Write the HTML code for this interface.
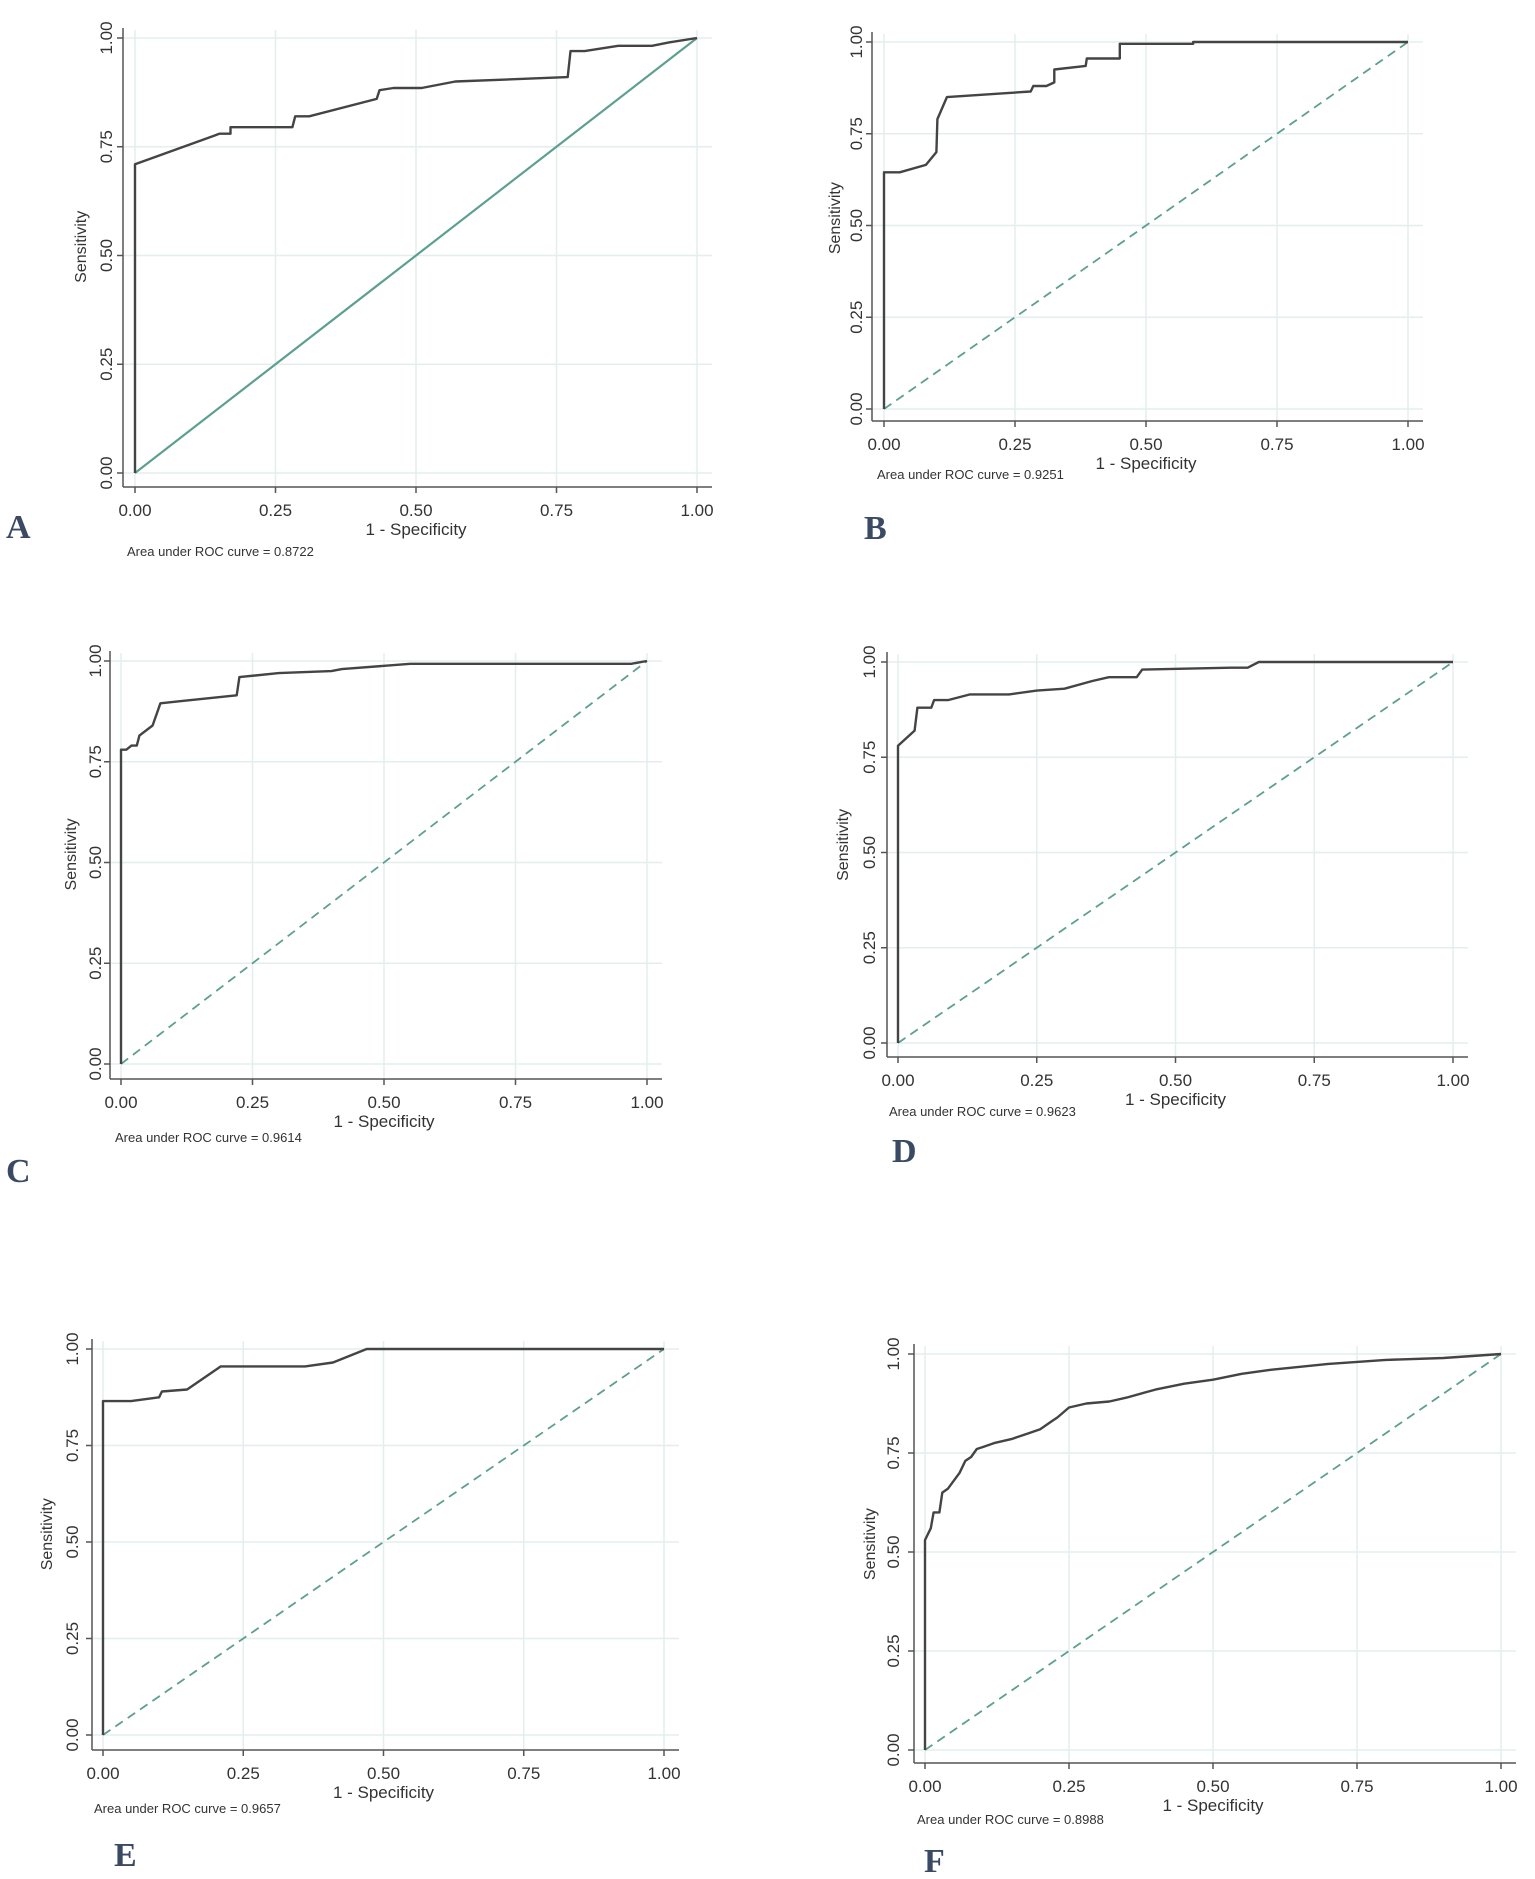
<!DOCTYPE html>
<html><head><meta charset="utf-8"><style>
html,body{margin:0;padding:0;background:#fff;}
svg{display:block;}
text{font-family:"Liberation Sans",sans-serif;fill:#333;}
</style></head><body>
<svg id="fig" width="1535" height="1879" viewBox="0 0 1535 1879"></svg>
<script>
const tickValues = [0, 0.25, 0.5, 0.75, 1];
const tickLabels = ["0.00","0.25","0.50","0.75","1.00"];
const panelLetters = ["A","B","C","D","E","F"];
const aucLabels = ["0.8722","0.9251","0.9614","0.9623","0.9657","0.8988"];
const rocA_x = [0,0,0.14,0.15,0.17,0.17,0.28,0.285,0.31,0.43,0.435,0.46,0.51,0.57,0.77,0.775,0.8,0.86,0.92,0.95,1];
const rocA_y = [0,0.71,0.775,0.78,0.78,0.795,0.795,0.82,0.82,0.86,0.88,0.885,0.885,0.9,0.91,0.97,0.97,0.982,0.982,0.99,1];
const rocB_x = [0,0,0.03,0.08,0.1,0.102,0.12,0.28,0.285,0.31,0.325,0.325,0.385,0.387,0.45,0.45,0.59,0.59,1];
const rocB_y = [0,0.645,0.645,0.665,0.7,0.79,0.85,0.865,0.88,0.88,0.89,0.925,0.935,0.955,0.955,0.995,0.995,1,1];
const rocC_x = [0,0,0.01,0.02,0.03,0.035,0.06,0.075,0.11,0.22,0.225,0.3,0.4,0.42,0.55,0.97,1];
const rocC_y = [0,0.78,0.78,0.79,0.79,0.815,0.84,0.895,0.9,0.915,0.96,0.97,0.975,0.98,0.993,0.993,1];
const rocD_x = [0,0,0.03,0.035,0.06,0.065,0.09,0.13,0.2,0.25,0.3,0.35,0.38,0.43,0.44,0.6,0.63,0.65,1];
const rocD_y = [0,0.78,0.82,0.88,0.88,0.9,0.9,0.915,0.915,0.925,0.93,0.95,0.96,0.96,0.98,0.985,0.985,1,1];
const rocE_x = [0,0,0.05,0.1,0.105,0.15,0.21,0.36,0.41,0.47,1];
const rocE_y = [0,0.865,0.865,0.875,0.89,0.895,0.955,0.955,0.965,1,1];
const rocF_x = [0,0,0.01,0.015,0.025,0.03,0.04,0.05,0.06,0.07,0.08,0.09,0.1,0.12,0.15,0.18,0.2,0.22,0.23,0.25,0.28,0.32,0.35,0.4,0.45,0.5,0.55,0.6,0.7,0.8,0.9,1];
const rocF_y = [0,0.53,0.56,0.6,0.6,0.65,0.66,0.68,0.7,0.73,0.74,0.76,0.765,0.775,0.785,0.8,0.81,0.83,0.84,0.865,0.875,0.88,0.89,0.91,0.925,0.935,0.95,0.96,0.975,0.985,0.99,1];
const seriesX = [rocA_x,rocB_x,rocC_x,rocD_x,rocE_x,rocF_x];
const seriesY = [rocA_y,rocB_y,rocC_y,rocD_y,rocE_y,rocF_y];

const L = [
 {x0:135,x1:697,yt:38,yb:473,ax:123,ay:487,ytx:112,sx:86,arx:127,ary:556,lx:6,ly:538,dash:false},
 {x0:884,x1:1408,yt:42,yb:409,ax:872,ay:421,ytx:862,sx:840,arx:877,ary:479,lx:864,ly:539,dash:true},
 {x0:121,x1:647,yt:661,yb:1064,ax:110,ay:1079,ytx:101,sx:76,arx:115,ary:1142,lx:6,ly:1182,dash:true},
 {x0:898,x1:1453,yt:662,yb:1043,ax:887,ay:1057,ytx:875,sx:848,arx:889,ary:1116,lx:892,ly:1162,dash:true},
 {x0:103,x1:664,yt:1349,yb:1735,ax:92,ay:1750,ytx:78,sx:52,arx:94,ary:1813,lx:114,ly:1866,dash:true},
 {x0:925,x1:1501,yt:1354,yb:1750,ax:914,ay:1763,ytx:899,sx:875,arx:917,ary:1824,lx:924,ly:1872,dash:true}
];
const NS="http://www.w3.org/2000/svg";
const svg=document.getElementById('fig');
function mk(tag,attrs,parent){const e=document.createElementNS(NS,tag);for(const k in attrs)e.setAttribute(k,attrs[k]);(parent||svg).appendChild(e);return e;}

L.forEach((p,i)=>{
  const g=mk('g',{});
  
  
  const sx=v=>p.x0+v*(p.x1-p.x0);
  const sy=v=>p.yb-v*(p.yb-p.yt);
  tickValues.forEach((t,k)=>{
    const gl=mk('line',{x1:sx(t),x2:sx(t),y1:p.yt-8,y2:p.ay,stroke:'#e4eeee','stroke-width':1.5},g);
    
    
    const hl=mk('line',{x1:p.ax,x2:p.x1+15,y1:sy(t),y2:sy(t),stroke:'#e4eeee','stroke-width':1.5},g);
    
    
  });
  const ya=mk('line',{x1:p.ax,x2:p.ax,y1:p.yt-10,y2:p.ay,stroke:'#555','stroke-width':1.5},g);
  
  
  const xa=mk('line',{x1:p.ax,x2:p.x1+15,y1:p.ay,y2:p.ay,stroke:'#555','stroke-width':1.5},g);
  
  
  tickValues.forEach((t,k)=>{
    mk('line',{x1:sx(t),x2:sx(t),y1:p.ay,y2:p.ay+6,stroke:'#555','stroke-width':1.5},g);
    mk('line',{x1:p.ax-6,x2:p.ax,y1:sy(t),y2:sy(t),stroke:'#555','stroke-width':1.5},g);
    const xt=mk('text',{x:sx(t),y:p.ay+29,'text-anchor':'middle','font-size':17},g);
    xt.textContent=tickLabels[k];
    
    
    const yt=mk('text',{x:0,y:0,'text-anchor':'middle','font-size':17,transform:`translate(${p.ytx},${sy(t)}) rotate(-90)`},g);
    yt.textContent=tickLabels[k];
    
    
  });
  const xl=mk('text',{x:sx(0.5),y:p.ay+48,'text-anchor':'middle','font-size':17},g);
  xl.textContent='1 - Specificity';
  
  
  const yl=mk('text',{x:0,y:0,'text-anchor':'middle','font-size':16,transform:`translate(${p.sx},${sy(0.52)}) rotate(-90)`},g);
  yl.textContent='Sensitivity';
  
  
  const ref=mk('line',{x1:sx(0),y1:sy(0),x2:sx(1),y2:sy(1),stroke:'#5d9f90','stroke-width':p.dash?1.8:2.2},g);
  if(p.dash)ref.setAttribute('stroke-dasharray','9,6');
  
  
  const xs=seriesX[i],ys=seriesY[i];
  const d=xs.map((x,k)=>(k?'L':'M')+sx(x).toFixed(1)+','+sy(ys[k]).toFixed(1)).join(' ');
  const c=mk('path',{d:d,fill:'none',stroke:'#444','stroke-width':2.4,'stroke-linejoin':'round'},g);
  
  
  const at=mk('text',{x:p.arx,y:p.ary,'font-size':13},g);
  at.textContent='Area under ROC curve = '+aucLabels[i];
  
  
  const lt=mk('text',{x:p.lx,y:p.ly,'font-size':34,'font-weight':'bold',style:'font-family:"Liberation Serif",serif;fill:#3a4a63'},g);
  lt.textContent=panelLetters[i];
  
  
});
</script>
</body></html>
